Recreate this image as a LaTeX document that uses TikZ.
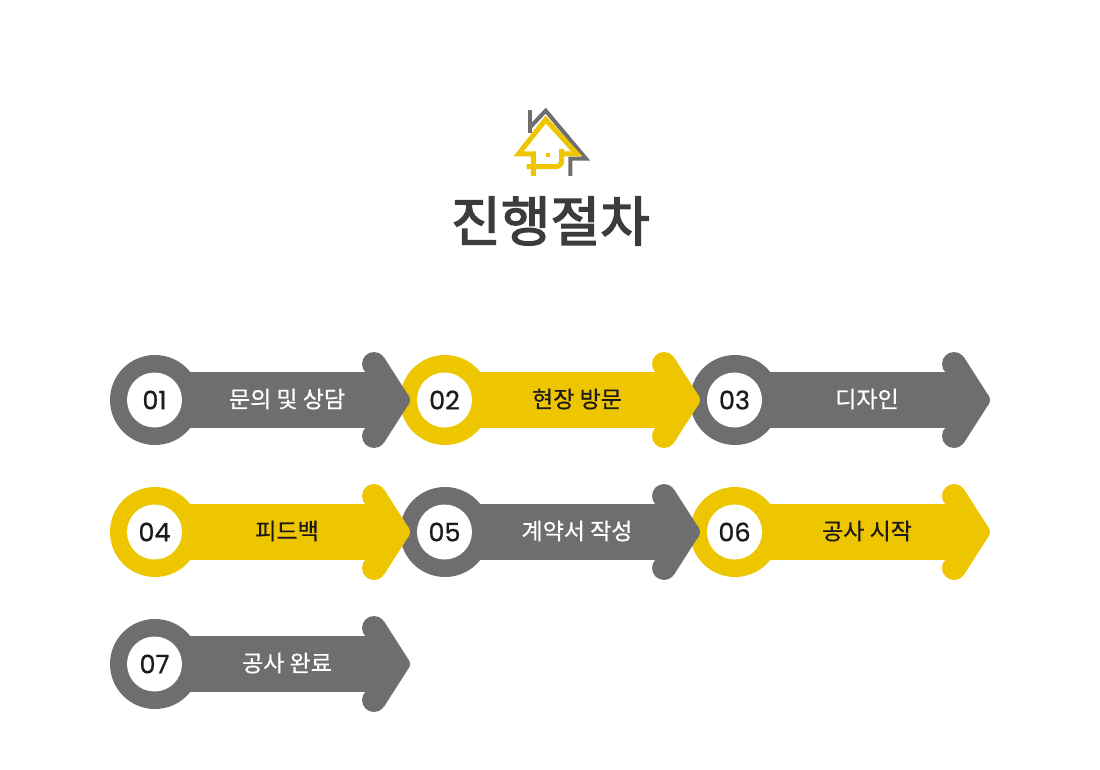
\documentclass[tikz,border=0pt]{standalone}
\usepackage{fontspec}
\setmainfont[FakeBold=0.6]{Noto Sans CJK KR}
\newfontfamily\titlefont[FakeBold=2.6]{Noto Sans CJK KR}
\newfontfamily\numfont[FakeBold=0.8]{Poppins}
\definecolor{stepgray}{HTML}{6E6E6E}
\definecolor{stepyellow}{HTML}{EDC600}
\definecolor{titledark}{HTML}{3C3C3C}
\definecolor{numdark}{HTML}{1E1A1A}

\def\mystep{290}
\def\myrow{132}

\tikzset{
  numlabel/.style={font=\numfont\fontsize{25.5}{25.5}\selectfont, text=numdark, inner sep=0pt},
  steplabel/.style={font=\fontsize{23}{23}\selectfont, inner sep=0pt},
  grayline/.style={line width=4pt, line join=miter, line cap=butt, stepgray},
  yellowline/.style={line width=5pt, line join=miter, line cap=butt, stepyellow},
}

\begin{document}
\begin{tikzpicture}[x=1pt,y=-1pt]
    \useasboundingbox (0,0) rectangle (1100,770);
    \fill[white] (0,0) rectangle (1100,770);

    % logo
    \draw[grayline] (530.3,110) -- (530.3,133);
    \draw[grayline] (530.3,127) -- (545.7,110.7) -- (586,158.7) -- (570.3,158.7) -- (570.3,176);
    \draw[yellowline] (533.3,176) -- (533.3,154) -- (518.5,154) -- (545.7,119.5) -- (577,154) -- (559.2,154);
    \draw[yellowline] (526.7,166.7) -- (555,166.7) .. controls (559.5,166.7) and (561.7,164) .. (561.7,160) -- (561.7,149);
    \fill[stepyellow] (546,153.3) rectangle (550,157.3);

    \node[font=\titlefont\fontsize{54}{54}\selectfont, text=titledark] (title) at (550.5,221) {진행절차};

    % right to left, each tip lies on the next circle
    \foreach \col/\row/\n/\field/\fg/\tc in {
        2/0/03/디자인/stepgray/white,
        1/0/02/현장 방문/stepyellow/numdark,
        0/0/01/문의 및 상담/stepgray/white,
        2/1/06/공사 시작/stepyellow/numdark,
        1/1/05/계약서 작성/stepgray/white,
        0/1/04/피드백/stepyellow/numdark,
        0/2/07/공사 완료/stepgray/white} {
      \begin{scope}[shift={(\col*\mystep,\row*\myrow)}]
        \fill[\fg] (155,400) circle (45);
        \fill[\fg] (155,372) rectangle (375,428);
        \fill[\fg] (374,364) circle (12) (374,436) circle (12) (403,400) circle (7);
        \fill[\fg] (374,364) -- (384.1,357.5) -- (408.9,396.2) -- (408.9,403.8)
            -- (384.1,442.5) -- (374,436) -- cycle;
        \fill[white] (154.5,400) circle (27.5);
        \node[numlabel] (num\n) at (154.5,400) {\n};
        \node[steplabel, text=\tc] (label\n) at (287,399) {\field};
      \end{scope}
    }
\end{tikzpicture}
\end{document}
